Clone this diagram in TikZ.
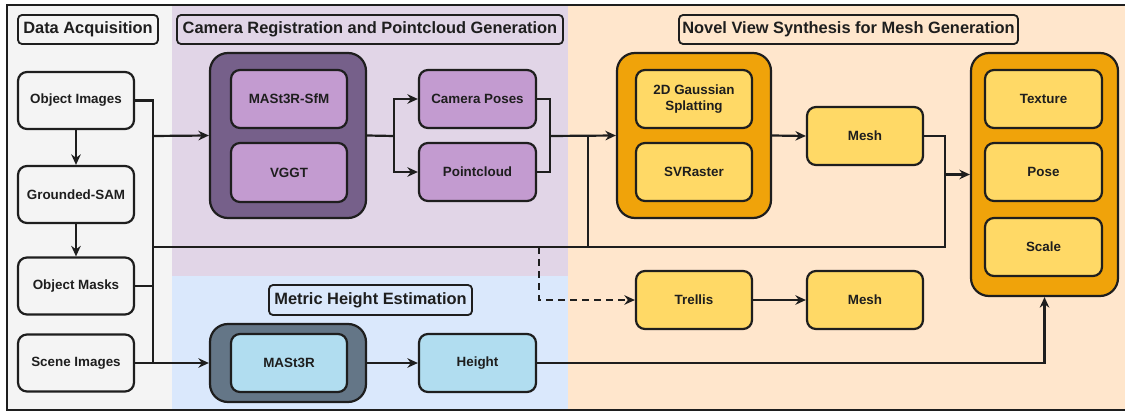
\documentclass[tikz,border=0pt]{standalone}
\usepackage{fontspec}
\setmainfont{Liberation Sans}
\usetikzlibrary{arrows.meta}

\definecolor{bgGray}{HTML}{F4F4F4}
\definecolor{bgPurple}{HTML}{E1D5E7}
\definecolor{bgBlue}{HTML}{DAE8FC}
\definecolor{bgPeach}{HTML}{FFE6CC}
\definecolor{grpPurple}{HTML}{76608A}
\definecolor{boxPurple}{HTML}{C39BD0}
\definecolor{grpOrange}{HTML}{F0A30A}
\definecolor{boxYellow}{HTML}{FFD966}
\definecolor{grpSlate}{HTML}{647687}
\definecolor{boxBlue}{HTML}{B1DDF0}
\definecolor{ink}{HTML}{1E1E1E}

\tikzset{
  base/.style={draw=ink, line width=2.2pt, rounded corners=9pt, text=ink,
    font=\bfseries\fontsize{13.4}{15}\selectfont, align=center, inner sep=0pt},
  plainbox/.style={base, fill=bgGray, minimum width=116pt, minimum height=57pt},
  purplebox/.style={base, fill=boxPurple, minimum width=116pt, minimum height=58pt},
  yellowbox/.style={base, fill=boxYellow, minimum width=116pt, minimum height=58pt},
  bluebox/.style={base, fill=boxBlue, minimum width=116pt, minimum height=58pt},
  group/.style={draw=ink, line width=2.2pt, rounded corners=18pt, inner sep=0pt},
  title/.style={draw=ink, line width=1.8pt, rounded corners=4pt, text=ink,
    font=\bfseries\fontsize{16.4}{18}\selectfont, inner sep=0pt, minimum height=29pt},
  conn/.style={draw=ink, line width=2.2pt},
  arr/.style={conn, -{Stealth[length=10.5pt,width=9.5pt]}},
}

\begin{document}
\begin{tikzpicture}[x=1pt,y=-1pt]
\useasboundingbox (0,0) rectangle (1125,412);

% section backgrounds
\fill[bgGray]   (7,5)   rectangle (172,410);
\fill[bgPurple] (172,5) rectangle (568,276);
\fill[bgBlue]   (172,276) rectangle (568,410);
\fill[bgPeach]  (568,5) rectangle (1140,410);
\draw[ink, line width=1.8pt] (7,5) rectangle (1140,410);

% section titles
\node[title, minimum width=140pt] (tData) at (88,29.5) {Data Acquisition};
\node[title, minimum width=386pt] (tCam) at (370,29.5) {Camera Registration and Pointcloud Generation};
\node[title, minimum width=339pt] (tNvs) at (848.5,29.5) {Novel View Synthesis for Mesh Generation};
\node[title, minimum width=203pt, minimum height=30pt] (tMet) at (370.5,300) {Metric Height Estimation};

% data acquisition
\node[plainbox] (oi) at (76,100.5) {Object Images};
\node[plainbox] (gs) at (76,194.5) {Grounded-SAM};
\node[plainbox] (om) at (76,286) {Object Masks};
\node[plainbox] (si) at (76,363) {Scene Images};

% camera registration
\node[group, fill=grpPurple, minimum width=156pt, minimum height=165pt] (pg) at (288,135.5) {};
\node[purplebox] (ms) at (289,99) {MASt3R-SfM};
\node[purplebox, minimum height=59pt] (vg) at (289,172.5) {VGGT};
\node[purplebox, minimum width=117pt] (cp) at (477.5,99) {Camera Poses};
\node[purplebox, minimum width=117pt] (pc) at (477.5,172) {Pointcloud};

% metric height
\node[group, fill=grpSlate, minimum width=156pt, minimum height=78pt] (mg) at (288,363) {};
\node[bluebox] (ma) at (289,363) {MASt3R};
\node[bluebox, minimum width=117pt] (ht) at (477.5,363) {Height};

% novel view synthesis
\node[group, fill=grpOrange, minimum width=154pt, minimum height=165pt] (og) at (694,135.5) {};
\node[yellowbox] (gsp) at (694,99) {2D Gaussian\\[1pt]Splatting};
\node[yellowbox] (svr) at (694,172) {SVRaster};
\node[yellowbox] (m1) at (865,136) {Mesh};
\node[yellowbox] (tr) at (694,300) {Trellis};
\node[yellowbox] (m2) at (865,300) {Mesh};
\node[group, fill=grpOrange, minimum width=147pt, minimum height=243pt] (rg) at (1044.5,174.5) {};
\node[yellowbox, minimum width=117pt] (tex) at (1043.5,99) {Texture};
\node[yellowbox, minimum width=117pt] (pose) at (1043.5,172) {Pose};
\node[yellowbox, minimum width=117pt] (scl) at (1043.5,247) {Scale};

% junction points
\coordinate (busTop) at (153,100.5);
\coordinate (busBot) at (153,363);
\coordinate (busIn)  at (153,136);
\coordinate (busMid) at (153,247);
\coordinate (split)  at (394,136);
\coordinate (merge)  at (550,136);
\coordinate (tapTop) at (588,136);
\coordinate (tapBot) at (588,247);
\coordinate (dashTap) at (539,247);
\coordinate (joinTop) at (945,136);
\coordinate (joinIn)  at (945,174.5);
\coordinate (joinBot) at (945,247);

% data acquisition flow
\draw[arr] (oi) -- (gs);
\draw[arr] (gs) -- (om);
\draw[conn] (oi.east) -- (busTop) -- (busBot);
\draw[conn] (om.east) -- (153,286);
\draw[arr] (si.east) -- (mg.west);
\draw[arr] (busIn) -- (pg.west);
\draw[conn] (busMid) -- (joinBot) -- (joinIn);

% camera registration flow
\draw[conn] (pg.east) -- (split);
\draw[arr] (split) |- (cp.west);
\draw[arr] (split) |- (pc.west);
\draw[conn] (cp.east) -| (merge);
\draw[conn] (pc.east) -| (merge);
\draw[arr] (merge) -- (og.west);
\draw[conn] (tapTop) -- (tapBot);

% mesh generation flow
\draw[arr] (og.east) -- (m1.west);
\draw[conn] (m1.east) -- (joinTop) -- (joinIn);
\draw[arr] (joinIn) -- (rg.west);
\draw[arr, dashed, dash pattern=on 7pt off 5pt] (dashTap) |- (tr.west);
\draw[arr] (tr) -- (m2);

% metric height flow
\draw[arr] (mg.east) -- (ht.west);
\draw[arr] (ht.east) -| (rg.south);
\end{tikzpicture}
\end{document}
